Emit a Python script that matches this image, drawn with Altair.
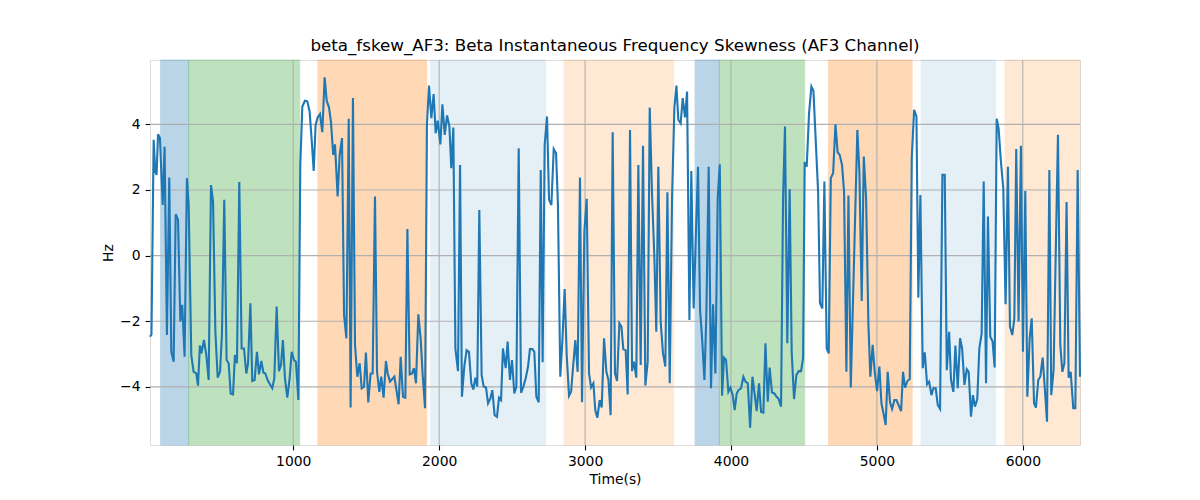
import altair as alt
import pandas as pd


# beta instantaneous frequency skewness, AF3 channel
time_s = [
    18, 28, 43, 54, 63, 73, 86, 105, 118, 134, 150, 164, 180, 194, 210, 226, 239, 255, 271, 283,
    301, 317, 335, 347, 360, 370, 388, 404, 420, 436, 450, 466, 482, 498, 511, 527, 543, 557, 571, 587,
    600, 614, 630, 646, 662, 678, 690, 706, 719, 735, 751, 765, 781, 795, 808, 827,
    856, 870, 886, 902, 916, 929, 943, 959, 975, 989, 1005, 1018, 1035, 1048, 1062, 1080, 1096, 1112, 1126, 1140,
    1153, 1167, 1183, 1199, 1215, 1229, 1245, 1258, 1274, 1286, 1304, 1318, 1334, 1348, 1364, 1380, 1393, 1409, 1423, 1439,
    1455, 1469, 1485, 1498, 1514, 1530, 1544, 1560, 1574, 1590, 1603, 1619, 1635,
    1647, 1663, 1679, 1693, 1709, 1722, 1736, 1752, 1768, 1782, 1798, 1814, 1827, 1841, 1857, 1873, 1887, 1903, 1916, 1930,
    1946, 1962, 1976, 1990, 2008, 2022, 2038, 2054, 2070, 2083, 2097, 2111, 2129, 2143, 2156, 2172, 2188, 2204, 2220, 2234,
    2248, 2261, 2275, 2291, 2305, 2321, 2335, 2351, 2364, 2380, 2396, 2410, 2424, 2437,
    2456, 2469, 2485, 2499, 2515, 2529, 2545, 2561, 2577, 2593, 2609, 2622, 2639, 2652, 2666, 2682, 2696, 2709, 2723, 2739,
    2753, 2769, 2785, 2801, 2814, 2830, 2844, 2860, 2874, 2890, 2904, 2917, 2933, 2949, 2965, 2979, 2995, 3011, 3027, 3041,
    3057, 3070, 3084, 3100, 3114, 3130, 3146, 3160, 3175, 3189, 3205, 3219, 3235,
    3249, 3262, 3278, 3292, 3308, 3322, 3335, 3351, 3365, 3381, 3397, 3413, 3429, 3443, 3459, 3475, 3488, 3502, 3518, 3534,
    3550, 3564, 3580, 3596, 3612, 3626, 3639, 3655, 3669, 3685, 3699, 3715, 3728, 3744, 3760, 3774, 3788, 3802, 3818, 3831,
    3847, 3863, 3877, 3893, 3909, 3923, 3939, 3952, 3966, 3982, 3996, 4012, 4025, 4039,
    4051, 4069, 4085, 4099, 4115, 4131, 4147, 4163, 4176, 4192, 4206, 4222, 4236, 4252, 4265, 4281, 4297, 4313, 4327, 4343,
    4357, 4370, 4386, 4402, 4416, 4432, 4448, 4464, 4480, 4494, 4505, 4519, 4535, 4551, 4565, 4581, 4597, 4610, 4626, 4640,
    4656, 4670, 4684, 4700, 4716, 4731, 4745, 4761, 4775, 4791, 4805, 4821,
    4866, 4880, 4896, 4910, 4926, 4942, 4955, 4971, 4985, 5001, 5017, 5031, 5047, 5060, 5074, 5090, 5104, 5120, 5134, 5150,
    5166, 5179, 5193, 5209, 5225, 5239, 5255, 5271, 5284, 5298, 5314, 5328, 5344, 5358, 5374, 5387, 5403, 5417, 5433, 5449,
    5465, 5479, 5495, 5508, 5524, 5538, 5554, 5570, 5584, 5600, 5616, 5629, 5645,
    5658, 5672, 5688, 5702, 5718, 5732, 5748, 5761, 5777, 5793, 5807, 5821, 5834, 5850, 5866, 5882, 5898, 5912, 5928, 5942,
    5955, 5971, 5987, 6001, 6017, 6031, 6047, 6061, 6077, 6090, 6106, 6120, 6136, 6150, 6166, 6182, 6195, 6211, 6225, 6241,
    6257, 6271, 6285, 6300, 6314, 6328, 6346, 6360, 6376, 6392,
]
skew_hz = [
    -2.47, -2.40, 3.53, 2.56, 2.46, 3.70, 3.58, 1.54, 3.32, -2.42, 2.38, -2.93, -3.23, 1.26, 1.09, -2.01, -1.50, -3.08, 2.36, 1.54,
    -3.03, -3.54, -3.59, -3.96, -2.74, -2.98, -2.57, -3.03, -3.79, 2.15, 1.65, -2.32, -3.72, -3.54, -2.42, 1.70, -3.18, -3.28, -4.20, -4.23,
    -3.03, -3.28, 2.24, -2.83, -2.83, -3.59, -3.28, -1.45, -3.82, -3.79, -2.93, -3.62, -3.21, -3.56, -3.59, -3.82,
    -4.04, -3.74, -1.55, -3.52, -3.33, -2.57, -3.74, -4.33, -3.74, -2.93, -3.18, -3.23, -4.40, 2.76, 4.54, 4.72, 4.70, 4.39, 3.53, 2.58,
    3.98, 4.21, 4.31, 3.76, 5.43, 4.72, 4.51, 4.09, 3.07, 3.39, 1.80, 3.07, 3.58, -1.81, -2.52, 4.17, -4.63, 4.80, -2.72, -3.69,
    -3.28, -4.04, -3.99, -2.95, -4.47, -3.59, -3.59, 1.80, -3.54, -4.15, -3.69, -4.33, -3.21,
    -3.59, -3.84, -3.76, -3.69, -4.15, -4.53, -3.08, -4.30, -4.33, 0.81, -3.62, -3.59, -3.43, -3.89, -1.79, -2.52, -3.64, -4.65, 3.98, 5.18,
    4.19, 4.92, 3.73, 4.11, 3.39, 4.61, 3.68, 4.27, 3.93, 2.66, 3.90, -2.83, -3.52, 2.76, -4.30, -3.38, -2.88, -2.93, -3.89, -4.08,
    -3.72, -3.99, 1.39, -3.64, -3.99, -4.02, -4.50, -4.35, -4.10, -4.86, -4.91, -4.33, -4.40, -2.83,
    -3.43, -2.62, -3.79, -3.18, -4.20, -3.99, 3.27, -4.18, -3.99, -3.74, -3.38, -2.85, -2.85, -2.93, -4.30, -4.47, 2.61, -3.25, 3.37, 4.24,
    1.70, 1.54, 3.25, 3.12, 1.54, -3.69, -2.62, -1.02, -3.03, -4.27, -4.15, -3.43, -2.57, -3.54, 2.38, -4.47, 0.73, 1.73, -3.59, -4.02,
    -3.89, -4.71, -4.94, -4.40, -4.63, -2.52, -3.54, -3.79, -4.86, 3.76, -3.59, -3.82, -2.06,
    -2.16, -2.85, -2.88, -4.23, 3.83, -3.52, -3.23, -3.72, 2.76, -3.33, 3.35, -3.96, -3.23, 4.51, 1.85, -0.08, -2.32, 2.71, -2.01, -2.98,
    -3.38, 1.93, -3.89, 1.75, 4.51, 5.18, 4.14, 4.03, 4.80, 4.21, 5.00, -1.96, 2.58, -1.61, 0.73, 2.71, -1.66, -2.52, -3.79, -1.81,
    2.71, -4.04, -1.48, -3.59, 1.75, 2.78, -4.27, -3.11, -3.18, -4.15, -4.02, -4.25, -4.71, -4.20,
    -4.10, -4.04, -3.69, -3.84, -3.89, -5.24, -3.69, -4.25, -4.74, -3.89, -4.76, -4.78, -2.67, -4.45, -3.41, -4.17, -4.20, -4.30, -4.37, -4.60,
    1.75, 3.93, -2.67, 2.03, -2.93, -4.37, -3.64, -3.52, -3.52, -3.13, 2.85, 2.71, 4.34, 5.15, 5.02, 3.48, 1.95, -1.45, -1.61, 2.26,
    -2.83, -2.98, 2.36, 2.51, 4.00, 3.15, 3.07, 2.76, 1.95, -3.54, 1.83, -4.02,
    3.83, 2.56, -1.38, 3.02, 1.75, -2.11, -3.69, -2.72, -3.54, -4.13, -3.38, -4.50, -4.84, -5.16, -3.54, -4.47, -4.67, -4.40, -4.40, -4.57,
    -4.74, -3.54, -4.02, -3.82, -3.76, 2.97, 4.44, 4.24, -1.28, 1.85, -3.43, -2.95, -3.92, -3.84, -4.25, -4.04, -4.04, -4.55, -4.67, 2.46,
    2.46, -3.49, -2.32, -3.79, -4.15, -2.74, -4.04, -2.52, -2.83, -3.94, -3.46, -3.54, -4.91,
    -4.25, -4.60, -4.37, -2.83, -2.37, 2.26, -3.89, 1.19, -2.47, -2.62, -3.41, 4.17, 3.88, 2.87, 2.05, -1.48, 2.71, -2.16, -2.42, -1.91,
    3.25, -2.01, 3.35, -2.93, 1.97, -4.30, -2.52, -1.91, -4.50, -4.63, -3.79, -3.69, -3.11, -3.99, -5.06, 2.61, -4.25, -3.49, -0.08, 3.68,
    -2.72, -3.54, -3.28, 1.63, -3.72, -3.54, -4.65, -4.65, 2.61, -3.69,
]

# shaded segments behind the signal
span_start = [91, 283, 1169, 1942, 2856, 3754, 3920, 4668, 5303, 5878]
span_end = [283, 1044, 1914, 2730, 3607, 3920, 4505, 5241, 5814, 6392]
span_color = ['#1f77b4', '#2ca02c', '#ff7f0e', '#1f77b4', '#ff7f0e',
              '#1f77b4', '#2ca02c', '#ff7f0e', '#1f77b4', '#ff7f0e']
span_alpha = [0.3, 0.3, 0.3, 0.11, 0.17, 0.3, 0.3, 0.3, 0.11, 0.17]

x_ticks = [1000, 2000, 3000, 4000, 5000, 6000]
y_ticks = [-4, -2, 0, 2, 4]

FONT = 'DejaVu Sans'

signal = pd.DataFrame({'t': time_s, 'v': skew_hz})
spans = pd.DataFrame({'start': span_start, 'end': span_end,
                      'color': span_color, 'alpha': span_alpha})
xgrid = pd.DataFrame({'t': x_ticks})
ygrid = pd.DataFrame({'v': y_ticks})

x_scale = alt.Scale(domain=[min(time_s), max(time_s)], nice=False, zero=False)
y_scale = alt.Scale(domain=[-5.77, 5.96], nice=False, zero=False)

x_axis = alt.Axis(values=x_ticks, format='d', title='Time(s)', grid=False, domain=False,
                  tickColor='black', tickWidth=1.1, tickSize=4.9, labelPadding=5,
                  labelFont=FONT, labelFontSize=13.9, labelColor='black',
                  titleFont=FONT, titleFontSize=13.9, titleFontWeight='normal',
                  titleColor='black', titlePadding=4)
y_axis = alt.Axis(values=y_ticks, format='d', title='Hz', grid=False, domain=False,
                  tickColor='black', tickWidth=1.1, tickSize=4.9, labelPadding=5,
                  labelFont=FONT, labelFontSize=13.9, labelColor='black',
                  titleFont=FONT, titleFontSize=13.9, titleFontWeight='normal',
                  titleColor='black', titlePadding=4)

shade = alt.Chart(spans).mark_rect(strokeWidth=1).encode(
    x=alt.X('start:Q', scale=x_scale, axis=x_axis),
    x2='end:Q',
    color=alt.Color('color:N', scale=None, legend=None),
    stroke=alt.Stroke('color:N', scale=None, legend=None),
    opacity=alt.Opacity('alpha:Q', scale=None, legend=None),
)

vgrid = alt.Chart(xgrid).mark_rule(color='#b0b0b0', strokeWidth=1.1).encode(
    x=alt.X('t:Q', scale=x_scale, axis=x_axis)
)
hgrid = alt.Chart(ygrid).mark_rule(color='#b0b0b0', strokeWidth=1.1).encode(
    y=alt.Y('v:Q', scale=y_scale, axis=y_axis)
)

line = alt.Chart(signal).mark_line(color='#1f77b4', strokeWidth=2.1).encode(
    x=alt.X('t:Q', scale=x_scale, axis=x_axis),
    y=alt.Y('v:Q', scale=y_scale, axis=y_axis),
)

chart = alt.layer(shade, vgrid, hgrid, line).properties(
    width=930,
    height=385,
    autosize='none',
    padding={'left': 142, 'top': 52, 'right': 100, 'bottom': 44},
    title=alt.TitleParams(
        'beta_fskew_AF3: Beta Instantaneous Frequency Skewness (AF3 Channel)',
        font=FONT, fontSize=16.7, fontWeight='normal', color='black',
        anchor='middle', baseline='alphabetic', offset=8, dy=16,
    ),
).configure_view(
    stroke='black', strokeWidth=1.1
).configure(background='white')

chart.save("out.html", embed_options={"renderer": "svg", "actions": False})
